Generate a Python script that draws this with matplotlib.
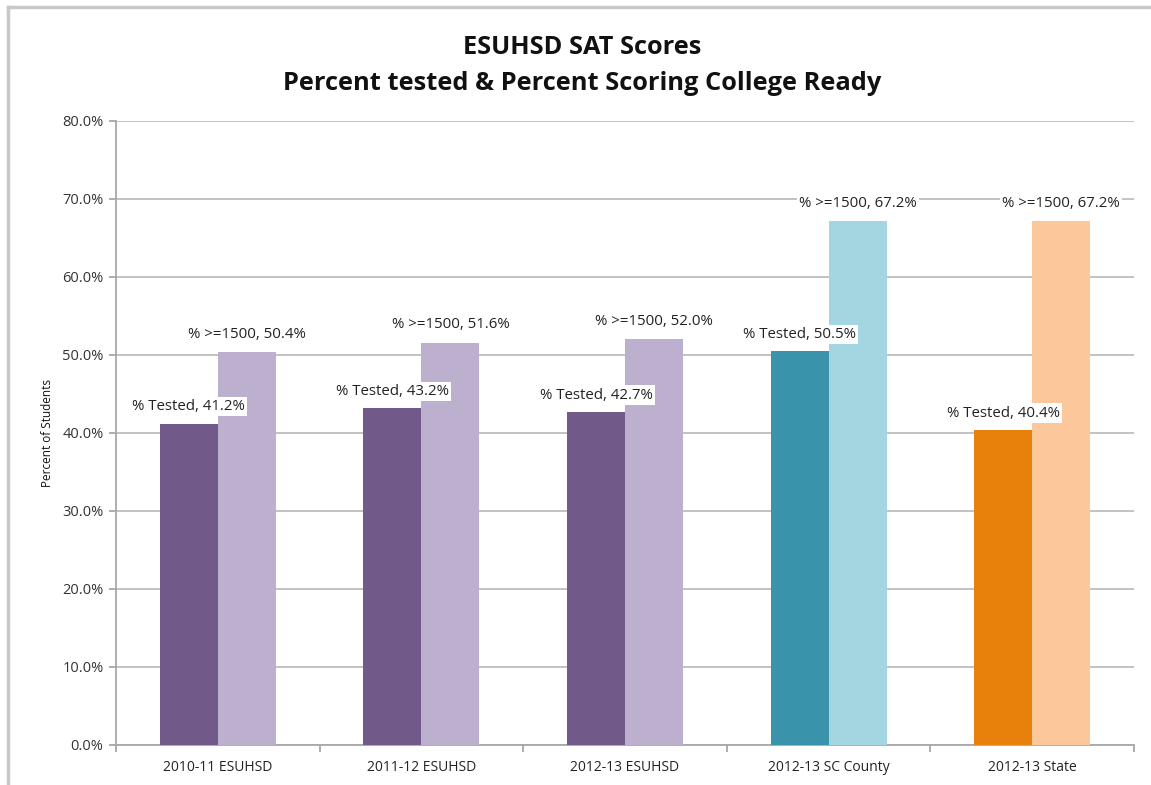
import numpy as np
import matplotlib.pyplot as plt
from matplotlib.lines import Line2D

plt.rcParams['font.family'] = ['Open Sans', 'DejaVu Sans']

categories = ['2010-11 ESUHSD', '2011-12 ESUHSD', '2012-13 ESUHSD',
              '2012-13 SC County', '2012-13 State']
tested = [41.2, 43.2, 42.7, 50.5, 40.4]
ready = [50.4, 51.6, 52.0, 67.2, 67.2]
dark_colors = ['#715a8a', '#715a8a', '#715a8a', '#3993aa', '#e8800c']
light_colors = ['#bdb0ce', '#bdb0ce', '#bdb0ce', '#a4d6e2', '#fcc89b']
yticks = [0, 10, 20, 30, 40, 50, 60, 70, 80]

fig = plt.figure(figsize=(11.51, 7.85), dpi=100)
ax = fig.add_axes([116/1151, 1-745/785, (1134-116)/1151, (745-121)/785])

x = np.arange(len(categories))
w = 0.285
ax.bar(x - w/2, tested, w, color=dark_colors, zorder=3)
ax.bar(x + w/2, ready, w, color=light_colors, zorder=3)

box = dict(facecolor='white', edgecolor='none', pad=1.5)
for i in range(len(categories)):
    ax.text(x[i] - w/2, tested[i] + 1.2, '%% Tested, %.1f%%' % tested[i],
            ha='center', va='bottom', fontsize=10.8, color='#222222', bbox=box, zorder=4)
    ax.text(x[i] + w/2, ready[i] + 1.3, '%% >=1500, %.1f%%' % ready[i],
            ha='center', va='bottom', fontsize=10.8, color='#222222', bbox=box, zorder=4)

ax.set_xlim(-0.5, len(categories) - 0.5)
ax.set_ylim(0, 80)
ax.set_yticks(yticks)
ax.set_yticklabels(['%.1f%%' % v for v in yticks], fontsize=10.5, color='#333333')
ax.set_xticks(x)
ax.set_xticklabels(categories, fontsize=10, color='#222222')
ax.set_xticks(np.arange(-0.5, len(categories)), minor=True)
ax.tick_params(axis='x', which='major', length=0, pad=11)
ax.tick_params(axis='x', which='minor', length=5, color='#a0a0a0', width=1.2)
ax.tick_params(axis='y', length=5, color='#a0a0a0', width=1.2, pad=4)
ax.yaxis.grid(True, color='#bdbdbd', linewidth=1.3, zorder=0)
for s in ['top', 'right']:
    ax.spines[s].set_visible(False)
for s in ['left', 'bottom']:
    ax.spines[s].set_color('#a8a8a8')
    ax.spines[s].set_linewidth(1.3)
ax.set_ylabel('Percent of Students', fontsize=8.5, color='#111111', labelpad=6)

fig.text(0.506, 1-47/785, 'ESUHSD SAT Scores', ha='center', va='center',
         fontsize=18.3, fontweight='bold', color='#111111')
fig.text(0.506, 1-84/785, 'Percent tested & Percent Scoring College Ready', ha='center', va='center',
         fontsize=18.3, fontweight='bold', color='#111111')

# outer frame (left and top only visible)
fig.add_artist(Line2D([8/1151, 8/1151], [0, 1-7/785], color='#c8c8c8', linewidth=2.5, transform=fig.transFigure))
fig.add_artist(Line2D([8/1151, 1], [1-7/785, 1-7/785], color='#c8c8c8', linewidth=2.5, transform=fig.transFigure))

fig.savefig('out.png', dpi=100)
